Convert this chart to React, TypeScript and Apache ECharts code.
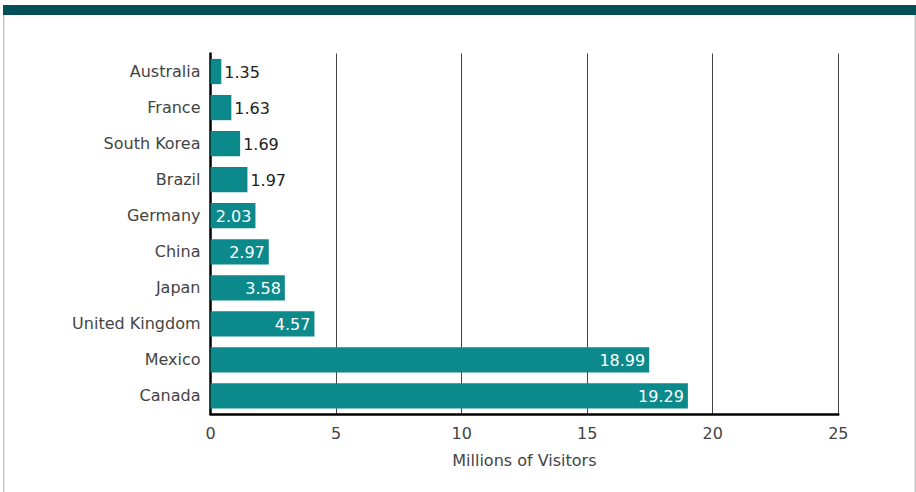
import React, { useEffect, useRef } from "react";
import * as echarts from "echarts";

const countries = ["Australia", "France", "South Korea", "Brazil", "Germany", "China", "Japan", "United Kingdom", "Mexico", "Canada"];
// bar lengths as drawn in the reference
const barValues = [0.43, 0.83, 1.18, 1.47, 1.79, 2.32, 2.96, 4.14, 17.47, 19.01];
// value labels as printed in the reference
const labelValues = ["1.35", "1.63", "1.69", "1.97", "2.03", "2.97", "3.58", "4.57", "18.99", "19.29"];
const insideLabel = [false, false, false, false, true, true, true, true, true, true];
const xTicks = [0, 5, 10, 15, 20, 25];

const FONT = "DejaVu Sans";
const W = "normal";
const FS = 16;

export default function App() {
  const ref = useRef<HTMLDivElement>(null);
  useEffect(() => {
    document.body.style.margin = "0";
    const chart = echarts.init(ref.current!, null, { renderer: "svg" });
    chart.setOption({
      animation: false,
      textStyle: { fontFamily: FONT, fontWeight: W },
      graphic: [
        { type: "rect", shape: { x: 3, y: 5, width: 913, height: 10 }, style: { fill: "#044f58" } },
        { type: "rect", shape: { x: 3, y: 15, width: 1.5, height: 477 }, style: { fill: "#c8c8c8" } },
        { type: "rect", shape: { x: 914.5, y: 15, width: 1.5, height: 477 }, style: { fill: "#c8c8c8" } },
      ],
      grid: { left: 210.5, right: 77.7, top: 53.5, bottom: 78, containLabel: false },
      xAxis: {
        type: "value",
        min: xTicks[0],
        max: xTicks[xTicks.length - 1],
        interval: 5,
        name: "Millions of Visitors",
        nameLocation: "middle",
        nameGap: 38,
        nameTextStyle: { fontSize: FS, color: "#444", fontFamily: FONT, fontWeight: W },
        axisLine: { show: true, lineStyle: { color: "#000", width: 2.5 } },
        axisTick: { show: false },
        axisLabel: { fontSize: FS, color: "#444", margin: 11, fontFamily: FONT, fontWeight: W },
        splitLine: { show: true, lineStyle: { color: "#444", width: 1 } },
      },
      yAxis: {
        type: "category",
        inverse: true,
        data: countries,
        axisLine: { show: true, lineStyle: { color: "#000", width: 2.5 } },
        axisTick: { show: false },
        axisLabel: { fontSize: FS, color: "#444", margin: 10, padding: [4, 0, 0, 0], fontFamily: FONT, fontWeight: W },
      },
      series: [
        {
          type: "bar",
          barCategoryGap: "30%",
          itemStyle: { color: "#0b898b" },
          data: barValues.map((v, i) => ({
            value: v,
            label: insideLabel[i]
              ? { position: "insideRight", color: "#fff", distance: 4 }
              : { position: "right", color: "#222", distance: 3 },
          })),
          label: {
            show: true,
            fontSize: FS,
            fontFamily: FONT,
            fontWeight: W,
            offset: [0, 1],
            formatter: (p: any) => labelValues[p.dataIndex],
          },
        },
      ],
    });
    return () => chart.dispose();
  }, []);
  return <div ref={ref} style={{ width: 916, height: 492 }} />;
}
